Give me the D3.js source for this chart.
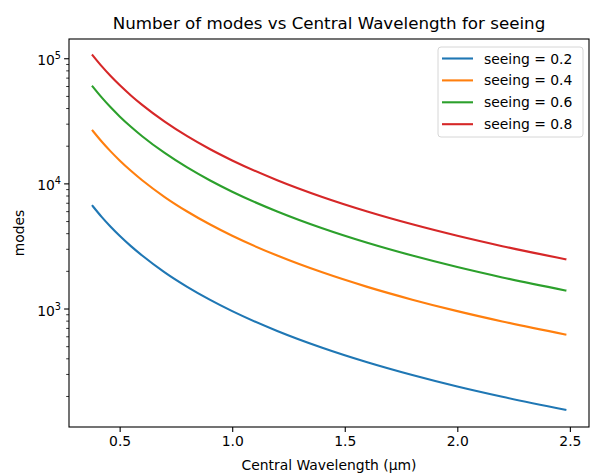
<!DOCTYPE html>
<html>
<head>
<meta charset="utf-8">
<script src="https://cdn.jsdelivr.net/npm/d3@7"></script>
<style>
  body { margin: 0; background: #fff; }
  text { font-family: "DejaVu Sans", sans-serif; fill: #000; }
</style>
</head>
<body>
<div id="chart"></div>
<script>
// values
var wavelengths = [0.38, 0.42, 0.46, 0.5, 0.55, 0.6, 0.7, 0.8, 0.9, 1.0, 1.2, 1.4, 1.6, 1.8, 2.0, 2.2, 2.48]
var seeing02 = [6600, 5400, 4500, 3810, 3150, 2650, 1945, 1490, 1177, 953, 662, 486, 372, 294, 238, 197, 155]
var seeing04 = [26400, 21610, 18020, 15250, 12600, 10590, 7780, 5960, 4710, 3812, 2650, 1945, 1489, 1177, 953, 788, 620]
var seeing06 = [59400, 48630, 40540, 34310, 28350, 23820, 17500, 13400, 10590, 8577, 5960, 4376, 3350, 2648, 2144, 1772, 1395]
var seeing08 = [105600, 86450, 72060, 60990, 50400, 42350, 31120, 23820, 18820, 15250, 10590, 7780, 5956, 4706, 3812, 3150, 2479]
var seriesNames = ["seeing = 0.2", "seeing = 0.4", "seeing = 0.6", "seeing = 0.8"]
var seriesValues = [seeing02, seeing04, seeing06, seeing08]
var xTicks = [0.5, 1.0, 1.5, 2.0, 2.5]
var yTicks = [1e3, 1e4, 1e5]
var colors = ["#1f77b4", "#ff7f0e", "#2ca02c", "#d62728"]

var margin = { top: 39, right: 2, bottom: 47, left: 69 },
    width = 591 - margin.left - margin.right,
    height = 474 - margin.top - margin.bottom;

var svg = d3.select("#chart")
    .append("svg")
    .attr("width", width + margin.left + margin.right)
    .attr("height", height + margin.top + margin.bottom)

var g = svg.append("g")
    .attr("transform", "translate(" + margin.left + "," + margin.top + ")")

// x: data range plus matplotlib's 5% margin
var xMin = d3.min(wavelengths), xMax = d3.max(wavelengths)
var xPad = (xMax - xMin) * 0.05
var x = d3.scaleLinear()
    .domain([xMin - xPad, xMax + xPad])
    .range([0, width])

var y = d3.scaleLog()
    .domain([113, 142500])
    .range([height, 0])

// x axis
var xAxis = g.append("g")
    .attr("transform", "translate(0," + height + ")")
    .call(d3.axisBottom(x).tickValues(xTicks).tickFormat(d3.format(".1f")).tickSize(4.9).tickPadding(4))
xAxis.select(".domain").remove()
xAxis.selectAll("line").attr("stroke", "#000").attr("stroke-width", 1.1)
xAxis.selectAll("text").style("font-size", "13.9px").attr("font-family", null)

// y minor ticks
var minorTicks = []
for (var e = 2; e <= 5; e++) {
    for (var m = 2; m <= 9; m++) {
        var v = m * Math.pow(10, e)
        if (v >= y.domain()[0] && v <= y.domain()[1]) minorTicks.push(v)
    }
}
var yMinor = g.append("g")
    .call(d3.axisLeft(y).tickValues(minorTicks).tickFormat("").tickSize(2.8))
yMinor.select(".domain").remove()
yMinor.selectAll("line").attr("stroke", "#000").attr("stroke-width", 0.8)

// y major ticks, labels as 10^n
var yAxis = g.append("g")
    .call(d3.axisLeft(y).tickValues(yTicks).tickFormat("").tickSize(4.9))
yAxis.select(".domain").remove()
yAxis.selectAll("line").attr("stroke", "#000").attr("stroke-width", 1.1)

var yLabels = g.selectAll("ylab")
    .data(yTicks)
    .enter()
    .append("text")
    .attr("x", -8)
    .attr("y", function (d) { return y(d) + 7 })
    .attr("text-anchor", "end")
    .style("font-size", "13.9px")
yLabels.append("tspan").text("10")
yLabels.append("tspan")
    .attr("dy", -6)
    .style("font-size", "9.7px")
    .text(function (d) { return Math.round(Math.log10(d)) })

// lines
var line = d3.line()
    .x(function (d) { return x(d[0]) })
    .y(function (d) { return y(d[1]) })
    .curve(d3.curveMonotoneX)

g.selectAll("series")
    .data(seriesValues)
    .enter()
    .append("path")
    .attr("d", function (vals) { return line(vals.map(function (v, i) { return [wavelengths[i], v] })) })
    .attr("fill", "none")
    .attr("stroke", function (d, i) { return colors[i] })
    .attr("stroke-width", 2.1)
    .attr("stroke-linecap", "square")

// frame
g.append("rect")
    .attr("width", width)
    .attr("height", height)
    .attr("fill", "none")
    .attr("stroke", "#000")
    .attr("stroke-width", 1.1)

// title and axis labels
svg.append("text")
    .attr("x", margin.left + width / 2)
    .attr("y", 29)
    .attr("text-anchor", "middle")
    .style("font-size", "16.7px")
    .text("Number of modes vs Central Wavelength for seeing")

svg.append("text")
    .attr("x", margin.left + width / 2)
    .attr("y", 470)
    .attr("text-anchor", "middle")
    .style("font-size", "13.9px")
    .text("Central Wavelength (µm)")

svg.append("text")
    .attr("transform", "translate(24," + (margin.top + height / 2) + ") rotate(-90)")
    .attr("text-anchor", "middle")
    .style("font-size", "13.9px")
    .text("modes")

// legend
var legend = svg.append("g").attr("transform", "translate(438,47)")
legend.append("rect")
    .attr("width", 145)
    .attr("height", 90)
    .attr("rx", 3)
    .attr("fill", "#fff")
    .attr("fill-opacity", 0.8)
    .attr("stroke", "#d6d6d6")
    .attr("stroke-width", 1)

var rowH = 21.9
legend.selectAll("lline")
    .data(seriesNames)
    .enter()
    .append("line")
    .attr("x1", 4)
    .attr("x2", 35)
    .attr("y1", function (d, i) { return 11.5 + i * rowH })
    .attr("y2", function (d, i) { return 11.5 + i * rowH })
    .attr("stroke", function (d, i) { return colors[i] })
    .attr("stroke-width", 2.1)

legend.selectAll("ltext")
    .data(seriesNames)
    .enter()
    .append("text")
    .attr("x", 46)
    .attr("y", function (d, i) { return 11.5 + i * rowH + 5 })
    .style("font-size", "13.9px")
    .text(function (d) { return d })
</script>
</body>
</html>
